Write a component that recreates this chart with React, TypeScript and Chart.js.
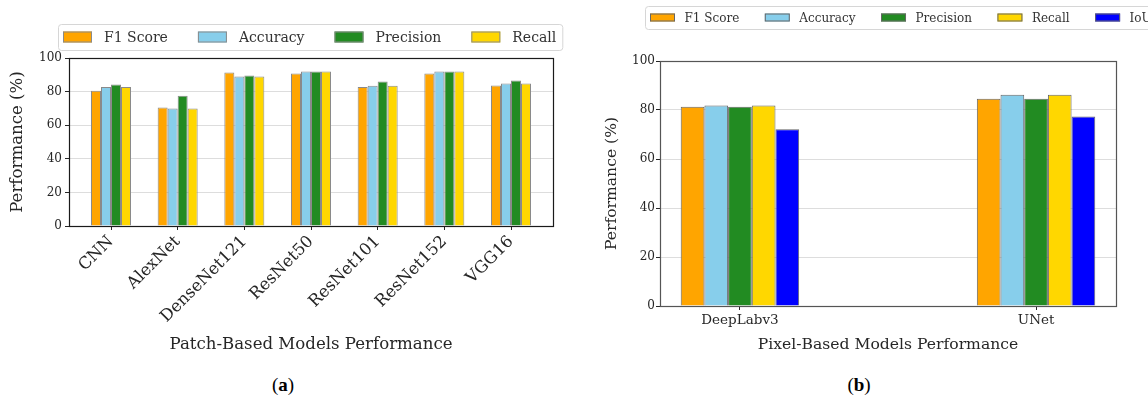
import React, { useEffect, useRef } from 'react';
import { Chart, registerables } from 'chart.js';

Chart.register(...registerables);

// ---------- data ----------
const patchModels = ['CNN', 'AlexNet', 'DenseNet121', 'ResNet50', 'ResNet101', 'ResNet152', 'VGG16'];
const patchF1 = [80.5, 70.6, 91.4, 90.8, 82.8, 90.8, 83.6];
const patchAccuracy = [82.8, 70.0, 89.0, 92.0, 83.5, 92.0, 84.8];
const patchPrecision = [84.2, 77.5, 89.6, 92.0, 86.0, 92.0, 86.6];
const patchRecall = [82.8, 70.0, 89.0, 92.0, 83.5, 92.0, 84.8];

const pixelModels = ['DeepLabv3', 'UNet'];
const pixelF1 = [81.3, 84.6];
const pixelAccuracy = [81.8, 86.2];
const pixelPrecision = [81.3, 84.6];
const pixelRecall = [81.8, 86.2];
const pixelIoU = [72.1, 77.3];

const seriesLabels = ['F1 Score', 'Accuracy', 'Precision', 'Recall', 'IoU'];
const seriesColors = ['#FFA500', '#87CEEB', '#228B22', '#FFD700', '#0000FF'];

const yMin = 0;
const yMax = 100;
const yStep = 20;

const FONT = 'DejaVu Serif';
const TEXT = '#262626';

// ---------- plugins ----------
type LegendCfg = {
  x: number; y: number; h: number; padL: number; padR: number;
  boxW: number; boxH: number; textGap: number; colGap: number; fontSize: number;
};

function boxLegend(cfg: LegendCfg) {
  return {
    id: 'boxLegend',
    afterDraw(chart: any) {
      const ctx = chart.ctx as CanvasRenderingContext2D;
      ctx.save();
      ctx.font = `${cfg.fontSize}px "${FONT}"`;
      const items = chart.data.datasets.map((ds: any) => ({
        text: ds.label as string, fill: ds.backgroundColor as string, stroke: ds.borderColor as string,
      }));
      let total = cfg.padL + cfg.padR;
      items.forEach((it: any, i: number) => {
        total += cfg.boxW + cfg.textGap + ctx.measureText(it.text).width;
        if (i < items.length - 1) total += cfg.colGap;
      });
      ctx.fillStyle = 'rgba(255,255,255,0.9)';
      ctx.strokeStyle = '#d6d6d6';
      ctx.lineWidth = 1;
      ctx.beginPath();
      (ctx as any).roundRect(cfg.x + 0.5, cfg.y + 0.5, total, cfg.h, 3);
      ctx.fill();
      ctx.stroke();
      const cy = cfg.y + cfg.h / 2;
      let x = cfg.x + cfg.padL;
      items.forEach((it: any) => {
        ctx.fillStyle = it.fill;
        ctx.fillRect(x, cy - cfg.boxH / 2, cfg.boxW, cfg.boxH);
        ctx.strokeStyle = it.stroke;
        ctx.strokeRect(x + 0.5, cy - cfg.boxH / 2 + 0.5, cfg.boxW - 1, cfg.boxH - 1);
        x += cfg.boxW + cfg.textGap;
        ctx.fillStyle = '#333333';
        ctx.textAlign = 'left';
        ctx.textBaseline = 'middle';
        ctx.fillText(it.text, x, cy + 1);
        x += ctx.measureText(it.text).width + cfg.colGap;
      });
      ctx.restore();
    },
  };
}

function frame(color: string) {
  return {
    id: 'frame',
    afterDatasetsDraw(chart: any) {
      const { left, top, right, bottom } = chart.chartArea;
      const ctx = chart.ctx as CanvasRenderingContext2D;
      ctx.save();
      ctx.strokeStyle = color;
      ctx.lineWidth = 1.2;
      ctx.strokeRect(Math.round(left) + 0.5, Math.round(top) + 0.5, Math.round(right - left), Math.round(bottom - top));
      ctx.restore();
    },
  };
}

// ---------- config builder ----------
type Spec = {
  categories: string[];
  series: number[][];
  barW: number;
  edge: string;
  frameColor: string;
  padding: { left: number; right: number; top: number; bottom: number };
  yWidth: number; xHeight: number;
  xTickSize: number; xRotation: number; xTickPad: number;
  yTickSize: number; yTickPad: number;
  titleSize: number; yTitlePad: number;
  xTitle: string;
  legend: LegendCfg;
};

function buildConfig(s: Spec): any {
  const nBars = s.series.length;
  const half = (nBars * s.barW) / 2;
  const margin = 0.05 * (s.categories.length - 1 + nBars * s.barW);
  return {
    type: 'bar',
    data: {
      datasets: s.series.map((vals, k) => ({
        label: seriesLabels[k],
        data: vals.map((v, i) => ({ x: i, y: v })),
        backgroundColor: seriesColors[k],
        borderColor: s.edge,
        borderWidth: 1,
        barPercentage: 1,
        categoryPercentage: nBars * s.barW,
      })),
    },
    options: {
      animation: false,
      responsive: false,
      maintainAspectRatio: false,
      layout: { padding: s.padding },
      plugins: { legend: { display: false }, tooltip: { enabled: false } },
      scales: {
        x: {
          type: 'linear',
          min: -half - margin,
          max: s.categories.length - 1 + half + margin,
          offset: false,
          afterBuildTicks: (sc: any) => { sc.ticks = s.categories.map((_, i) => ({ value: i })); },
          afterFit: (sc: any) => { sc.height = s.xHeight; },
          ticks: {
            autoSkip: false,
            minRotation: s.xRotation,
            maxRotation: s.xRotation,
            padding: s.xTickPad,
            color: TEXT,
            font: { family: FONT, size: s.xTickSize },
            callback: (v: number) => s.categories[v] ?? '',
          },
          grid: { offset: false, drawOnChartArea: false, drawTicks: true, tickLength: 4, tickColor: TEXT, color: TEXT },
          border: { display: false },
          title: {
            display: true, text: s.xTitle, color: TEXT,
            font: { family: FONT, size: s.titleSize, lineHeight: 1.2 },
            padding: { top: 0, bottom: 0 },
          },
        },
        y: {
          min: yMin,
          max: yMax,
          afterFit: (sc: any) => { sc.width = s.yWidth; },
          ticks: { stepSize: yStep, padding: s.yTickPad, color: TEXT, font: { family: FONT, size: s.yTickSize } },
          grid: { color: '#dddddd', lineWidth: 1, tickLength: 4, tickColor: TEXT },
          border: { display: false },
          title: {
            display: true, text: 'Performance (%)', color: TEXT,
            font: { family: FONT, size: s.titleSize, lineHeight: 1.2 },
            padding: { top: s.yTitlePad, bottom: 0 },
          },
        },
      },
    },
    plugins: [frame(s.frameColor), boxLegend(s.legend)],
  };
}

const leftSpec: Spec = {
  categories: patchModels,
  series: [patchF1, patchAccuracy, patchPrecision, patchRecall],
  barW: 0.15,
  edge: '#8a8a8a',
  frameColor: '#1a1a1a',
  padding: { left: 0, right: 27, top: 58, bottom: 5 },
  yWidth: 69, xHeight: 129,
  xTickSize: 16.5, xRotation: 45, xTickPad: 2,
  yTickSize: 12, yTickPad: 3,
  titleSize: 16.6, yTitlePad: 8,
  xTitle: 'Patch-Based Models Performance',
  legend: { x: 58, y: 24, h: 26, padL: 5, padR: 6, boxW: 29, boxH: 11, textGap: 12, colGap: 30, fontSize: 14 },
};

const rightSpec: Spec = {
  categories: pixelModels,
  series: [pixelF1, pixelAccuracy, pixelPrecision, pixelRecall, pixelIoU],
  barW: 0.08,
  edge: '#666666',
  frameColor: '#555555',
  padding: { left: 0, right: 32, top: 61, bottom: 6 },
  yWidth: 65, xHeight: 48,
  xTickSize: 13.5, xRotation: 0, xTickPad: 2,
  yTickSize: 12, yTickPad: 1,
  titleSize: 15.6, yTitlePad: 8,
  xTitle: 'Pixel-Based Models Performance',
  legend: { x: 50, y: 6, h: 23, padL: 5, padR: 6, boxW: 25, boxH: 8, textGap: 9.5, colGap: 25.5, fontSize: 12 },
};

function BarPanel({ spec, left, width, height }: { spec: Spec; left: number; width: number; height: number }) {
  const ref = useRef<HTMLCanvasElement | null>(null);
  useEffect(() => {
    if (!ref.current) return;
    const chart = new Chart(ref.current, buildConfig(spec));
    return () => chart.destroy();
  }, [spec]);
  return (
    <canvas
      ref={ref}
      width={width}
      height={height}
      style={{ position: 'absolute', left, top: 0, width, height, display: 'block' }}
    />
  );
}

export default function App() {
  const caption: React.CSSProperties = {
    position: 'absolute', top: 374, width: 60, textAlign: 'center',
    fontFamily: '"Liberation Serif", serif', fontSize: 19, color: '#000',
  };
  return (
    <div style={{ position: 'fixed', left: 0, top: 0, width: 1148, height: 401, background: '#fff', overflow: 'hidden' }}>
      <BarPanel spec={leftSpec} left={0} width={580} height={360} />
      <BarPanel spec={rightSpec} left={595} width={553} height={360} />
      <div style={{ ...caption, left: 253 }}>(<b>a</b>)</div>
      <div style={{ ...caption, left: 829 }}>(<b>b</b>)</div>
    </div>
  );
}
